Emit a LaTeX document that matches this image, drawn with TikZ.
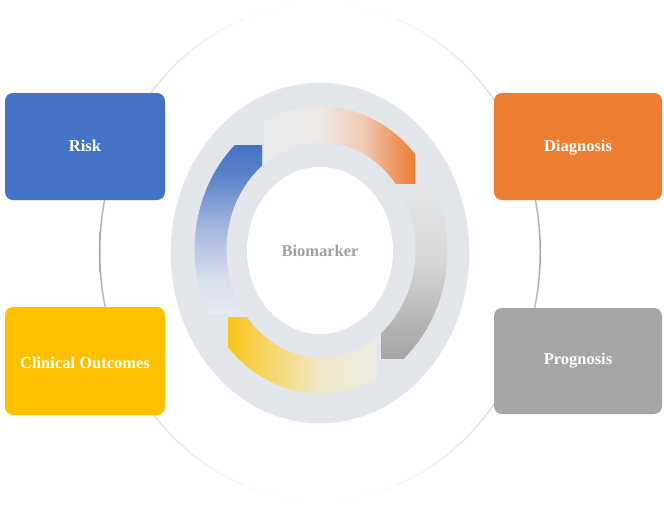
\documentclass[tikz,border=0pt]{standalone}
\usepackage{fontspec}
\setmainfont{Liberation Serif}
\definecolor{riskblue}{HTML}{4472C4}
\definecolor{diagorange}{HTML}{ED7D31}
\definecolor{clinyellow}{HTML}{FFC000}
\definecolor{proggray}{HTML}{A5A5A5}
\definecolor{ringgray}{HTML}{E3E6EA}
\definecolor{ringline}{HTML}{A3A7AD}
\definecolor{biogray}{HTML}{A0A0A0}
\definecolor{segpale}{HTML}{EAEBEC}
\definecolor{bluea}{HTML}{5B82CA}
\definecolor{blueb}{HTML}{A6B8E0}
\definecolor{bluec}{HTML}{D8DFEE}
\definecolor{blued}{HTML}{E6EAF1}
\definecolor{orga}{HTML}{EDE9E6}
\definecolor{orgb}{HTML}{F0CDB8}
\definecolor{orgc}{HTML}{EEA070}
\definecolor{graya}{HTML}{E5E6E8}
\definecolor{grayb}{HTML}{D6D6D6}
\definecolor{grayc}{HTML}{B8B8B8}
\definecolor{yela}{HTML}{FBC41A}
\definecolor{yelb}{HTML}{F5D870}
\definecolor{yelc}{HTML}{F1E8C8}
\definecolor{yeld}{HTML}{ECEBE5}
\pgfdeclareverticalshading{bluesh}{100bp}{color(0bp)=(blued); color(25bp)=(blued); color(35bp)=(bluec); color(50bp)=(blueb); color(66bp)=(bluea); color(75bp)=(riskblue); color(100bp)=(riskblue)}
\pgfdeclarehorizontalshading{orangesh}{100bp}{color(0bp)=(segpale); color(25bp)=(segpale); color(43.5bp)=(orga); color(57bp)=(orgb); color(66.5bp)=(orgc); color(75bp)=(diagorange); color(100bp)=(diagorange)}
\pgfdeclareverticalshading{graysh}{100bp}{color(0bp)=(proggray); color(25bp)=(proggray); color(37.5bp)=(grayc); color(52.5bp)=(grayb); color(75bp)=(graya); color(100bp)=(graya)}
\pgfdeclarehorizontalshading{yellowsh}{100bp}{color(0bp)=(yela); color(25bp)=(yela); color(40bp)=(yelb); color(56bp)=(yelc); color(75bp)=(yeld); color(100bp)=(yeld)}
\begin{document}
\begin{tikzpicture}[x=1pt,y=-1pt,
  lbl/.style={font=\fontsize{16.5}{20}\selectfont\bfseries},
  box/.style={lbl, rounded corners=8pt, inner sep=0pt, text=white, minimum height=107pt},
]
\useasboundingbox (0,0) rectangle (664,507);
\fill[white] (0,0) rectangle (664,507);
% outer thin ellipse
\shade[even odd rule, top color=white, bottom color=white, middle color=ringline]
  (320,252) ellipse [x radius=221, y radius=249]
  (320,252) ellipse [x radius=219.5, y radius=247.5];
% big light ring
\fill[ringgray] (320,253) ellipse [x radius=149.3, y radius=170.3];
% blue segment
\begin{scope}
  \clip (150,145) rectangle (262,313);
  \clip (321,250) ellipse [x radius=126.5, y radius=143.5];
  \shade[shading=bluesh] (150,145) rectangle (262,313);
\end{scope}
% orange segment
\begin{scope}
  \clip (264,90) rectangle (415,183);
  \clip (321,250) ellipse [x radius=126.5, y radius=143.5];
  \shade[shading=orangesh] (264,90) rectangle (415,183);
\end{scope}
% gray segment
\begin{scope}
  \clip (381,188) rectangle (470,358);
  \clip (321,250) ellipse [x radius=126.5, y radius=143.5];
  \shade[shading=graysh] (381,188) rectangle (470,358);
\end{scope}
% yellow segment
\begin{scope}
  \clip (228,317) rectangle (377,410);
  \clip (321,250) ellipse [x radius=126.5, y radius=143.5];
  \shade[shading=yellowsh] (228,317) rectangle (377,410);
\end{scope}
% restore inner ring and white centre
\fill[ringgray] (321,250) ellipse [x radius=94.5, y radius=107.5];
\fill[white] (320,250.5) ellipse [x radius=73, y radius=83.5];
\node[lbl, text=biogray, anchor=base] (bio) at (320,256.5) {Biomarker};
% boxes
\node[box, fill=riskblue, minimum width=160pt, text height=12pt, text depth=1.6pt] (risk) at (85,146.5) {Risk};
\node[box, fill=diagorange, minimum width=168pt, text height=12pt, text depth=1.6pt] (diag) at (578,146.5) {Diagnosis};
\node[box, fill=clinyellow, minimum width=160pt, minimum height=108pt, text height=14pt, text depth=0pt] (clin) at (85,361) {Clinical Outcomes};
\node[box, fill=proggray, minimum width=168pt, minimum height=106pt, text height=12pt, text depth=6pt] (prog) at (578,361) {Prognosis};
\end{tikzpicture}
\end{document}
